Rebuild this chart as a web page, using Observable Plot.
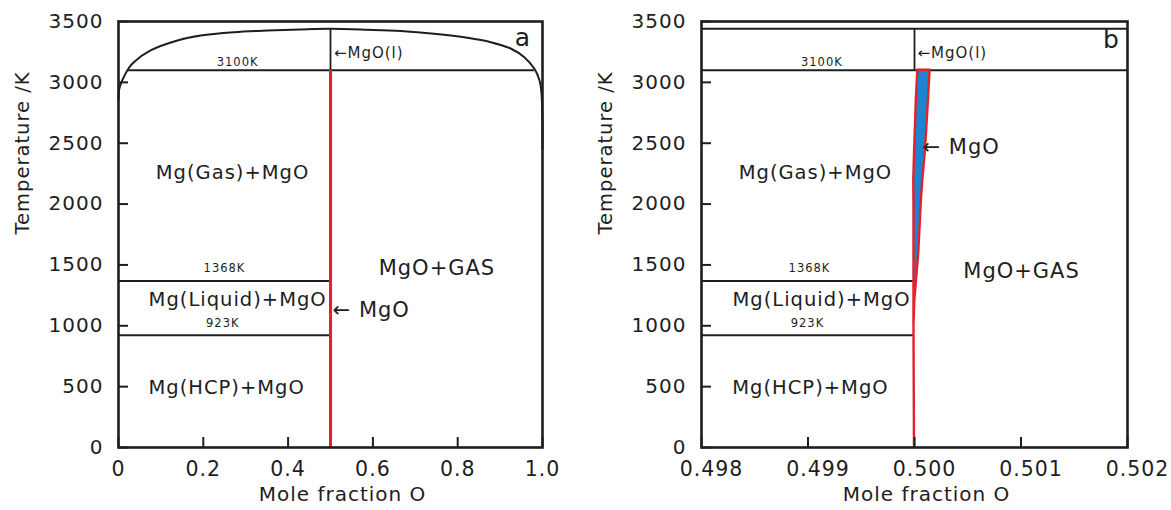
<!DOCTYPE html>
<html><head><meta charset="utf-8">
<script src="https://cdn.jsdelivr.net/npm/d3@7"></script>
<script src="https://cdn.jsdelivr.net/npm/@observablehq/plot@0.6"></script>
<style>
body{margin:0;background:#fff;}
#wrap{display:flex;width:1171px;height:510px;}
</style></head><body><div id="wrap"></div>
<script>
// ---- ticks ----
const yTicks = [0, 500, 1000, 1500, 2000, 2500, 3000, 3500];
const yTickLabels = ["0", "500", "1000", "1500", "2000", "2500", "3000", "3500"];
const xTicksA = [0, 0.2, 0.4, 0.6, 0.8, 1.0];
const xTickLabelsA = ["0", "0.2", "0.4", "0.6", "0.8", "1.0"];
const xTicksB = [0.498, 0.499, 0.500, 0.501, 0.502];
const xTickLabelsB = ["0.498", "0.499", "0.500", "0.501", "0.502"];

// ---- panel a: gas boundary (mole fraction O, T/K) ----
const gasX = [0, 0.002, 0.0087, 0.0236, 0.0354, 0.0756, 0.139, 0.194, 0.272, 0.352, 0.43, 0.5, 0.587, 0.666, 0.744, 0.823, 0.878, 0.926, 0.957, 0.981, 0.993, 0.997, 1.0, 1.0];
const gasT = [2851, 2950, 3016, 3114, 3164, 3262, 3344, 3385, 3412, 3426, 3435, 3440, 3432, 3421, 3399, 3366, 3330, 3276, 3207, 3112, 3016, 2933, 2687, 2450];
const gasTopT = 3440;

// isotherms
const isoT = [3100, 1368, 923];
const isoX1A = [0.0236, 0, 0];
const isoX2A = [0.981, 0.5, 0.5];
const isoX1B = [0.498, 0.498, 0.498];
const isoX2B = [0.502, 0.499995, 0.499995];
const mgoX = 0.5;
const mgoMeltT = 3100;

// ---- panel b: MgO single-phase region ----
const mgoT     = [0,        1000,     1208,     1372,     1594,     2005,     2194,     2440,     2851,     3100];
const mgoLeft  = [0.500000, 0.499995, 0.499995, 0.499995, 0.499995, 0.499995, 0.499993, 0.500001, 0.500017, 0.500031];
const mgoRight = [0.500000, 0.499995, 0.500003, 0.500019, 0.500040, 0.500063, 0.500078, 0.500103, 0.500131, 0.500146];

// ---- labels ----
const isoLabelText = ["3100K", "1368K", "923K"];
const isoLabelT = [3163, 1471, 1019];
const isoLabelXA = [0.281, 0.250, 0.246];
const isoLabelXB = [0.49913, 0.499014, 0.498995];

const regionText = ["Mg(Gas)+MgO", "Mg(Liquid)+MgO", "Mg(HCP)+MgO"];
const regionT = [2260, 1212, 495];
const regionXA = [0.269, 0.281, 0.255];
const regionXB = [0.49907, 0.499127, 0.499023];

const gasLabel = "MgO+GAS";
const gasLabelA = {x: 0.751, T: 1471};
const gasLabelB = {x: 0.501005, T: 1450};

const liqLabel = "←MgO(l)";
const liqLabelA = {x: 0.508, T: 3237};
const liqLabelB = {x: 0.500028, T: 3237};

const mgoLabel = "← MgO";
const mgoLabelA = {x: 0.505, T: 1126};
const mgoLabelB = {x: 0.500075, T: 2465};

const panelLetterA = {text: "a", x: 0.954, T: 3365};
const panelLetterB = {text: "b", x: 0.50185, T: 3344};

const INK = "#1e1e1e";
const RED = "#e3222b";
const BLUE = "#1c84d0";

function zip(xs, ts) {
  return xs.map((x, i) => ({x, T: ts[i]}));
}

function panel(o) {
  const isos = isoT.map((T, i) => ({T, x1: o.isoX1[i], x2: o.isoX2[i]}));
  const isoLabs = isoLabelText.map((t, i) => ({text: t, x: o.isoLabelX[i], T: isoLabelT[i]}));
  const regLabs = regionText.map((t, i) => ({text: t, x: o.regionX[i], T: regionT[i]}));
  return Plot.plot({
    width: o.width, height: 510,
    marginLeft: o.ml, marginRight: o.mr, marginTop: 21, marginBottom: 63,
    x: {domain: o.xDomain},
    y: {domain: [0, 3500]},
    style: {fontFamily: "DejaVu Sans", fontSize: "12px", color: INK, letterSpacing: "1px", background: "white", overflow: "visible"},
    marks: [
      ...o.extraBack,
      Plot.ruleY(isos, {y: "T", x1: "x1", x2: "x2", stroke: INK, strokeWidth: 2}),
      Plot.ruleX([{x: mgoX, y1: mgoMeltT, y2: gasTopT}], {x: "x", y1: "y1", y2: "y2", stroke: INK, strokeWidth: 1.8}),
      ...o.extraFront,
      // inward ticks
      Plot.axisY(yTicks, {anchor: "left", tickSize: 10, dx: 10, fill: "none", stroke: INK, strokeWidth: 2}),
      Plot.axisX(o.xTicks, {anchor: "bottom", tickSize: 10, dy: -10, fill: "none", stroke: INK, strokeWidth: 2}),
      // tick labels
      Plot.axisY(yTicks, {anchor: "left", tickSize: 0, tickPadding: 15, fontSize: 20, label: null, fill: INK,
        tickFormat: d => yTickLabels[yTicks.indexOf(d)]}),
      Plot.axisX(o.xTicks, {anchor: "bottom", tickSize: 0, tickPadding: 14, fontSize: 20.5, label: null, fill: INK, dx: o.xLabelDx,
        tickFormat: d => o.xTickLabels[o.xTicks.indexOf(d)]}),
      Plot.frame({stroke: INK, strokeWidth: 2.6}),
      // axis titles
      Plot.text(["Temperature /K"], {frameAnchor: "left", dx: -96, rotate: -90, fontSize: 19.5, fill: INK}),
      Plot.text(["Mole fraction O"], {frameAnchor: "bottom", dy: 53, dx: 12, fontSize: 20, fill: INK}),
      // annotations
      Plot.text(isoLabs, {x: "x", y: "T", text: "text", fontSize: 11.5, fill: INK}),
      Plot.text(regLabs, {x: "x", y: "T", text: "text", fontSize: 19.5, fill: INK}),
      Plot.text([o.gasLab], {x: "x", y: "T", text: () => gasLabel, fontSize: 21, fill: INK}),
      Plot.text([o.liqLab], {x: "x", y: "T", text: () => liqLabel, fontSize: 15, textAnchor: "start", fill: INK}),
      Plot.text([o.mgoLab], {x: "x", y: "T", text: () => mgoLabel, fontSize: 21, textAnchor: "start", fill: INK}),
      Plot.text([o.letter], {x: "x", y: "T", text: "text", fontSize: 25, fill: INK})
    ]
  });
}

const gasCurve = zip(gasX, gasT);
const mgoRegion = mgoT.map((T, i) => ({T, xl: mgoLeft[i], xr: mgoRight[i]}));

const plotA = panel({
  width: 585, ml: 118, mr: 43, xDomain: [0, 1],
  xTicks: xTicksA, xTickLabels: xTickLabelsA, xLabelDx: 0,
  isoX1: isoX1A, isoX2: isoX2A, isoLabelX: isoLabelXA, regionX: regionXA,
  gasLab: gasLabelA, liqLab: liqLabelA, mgoLab: mgoLabelA, letter: panelLetterA,
  extraBack: [
    Plot.line(gasCurve, {x: "x", y: "T", stroke: INK, strokeWidth: 2, curve: "catmull-rom"})
  ],
  extraFront: [
    Plot.ruleX([{x: mgoX, y1: 0, y2: mgoMeltT}], {x: "x", y1: "y1", y2: "y2", stroke: RED, strokeWidth: 3})
  ]
});

const plotB = panel({
  width: 586, ml: 116, mr: 44, xDomain: [0.498, 0.502],
  xTicks: xTicksB, xTickLabels: xTickLabelsB, xLabelDx: 10,
  isoX1: isoX1B, isoX2: isoX2B, isoLabelX: isoLabelXB, regionX: regionXB,
  gasLab: gasLabelB, liqLab: liqLabelB, mgoLab: mgoLabelB, letter: panelLetterB,
  extraBack: [
    Plot.ruleY([gasTopT], {x1: 0.498, x2: 0.502, stroke: INK, strokeWidth: 2})
  ],
  extraFront: [
    Plot.areaX(mgoRegion, {y: "T", x1: "xl", x2: "xr", fill: BLUE, stroke: RED, strokeWidth: 2.4, strokeLinejoin: "round"})
  ]
});

document.getElementById("wrap").append(plotA, plotB);
</script>
</body></html>
